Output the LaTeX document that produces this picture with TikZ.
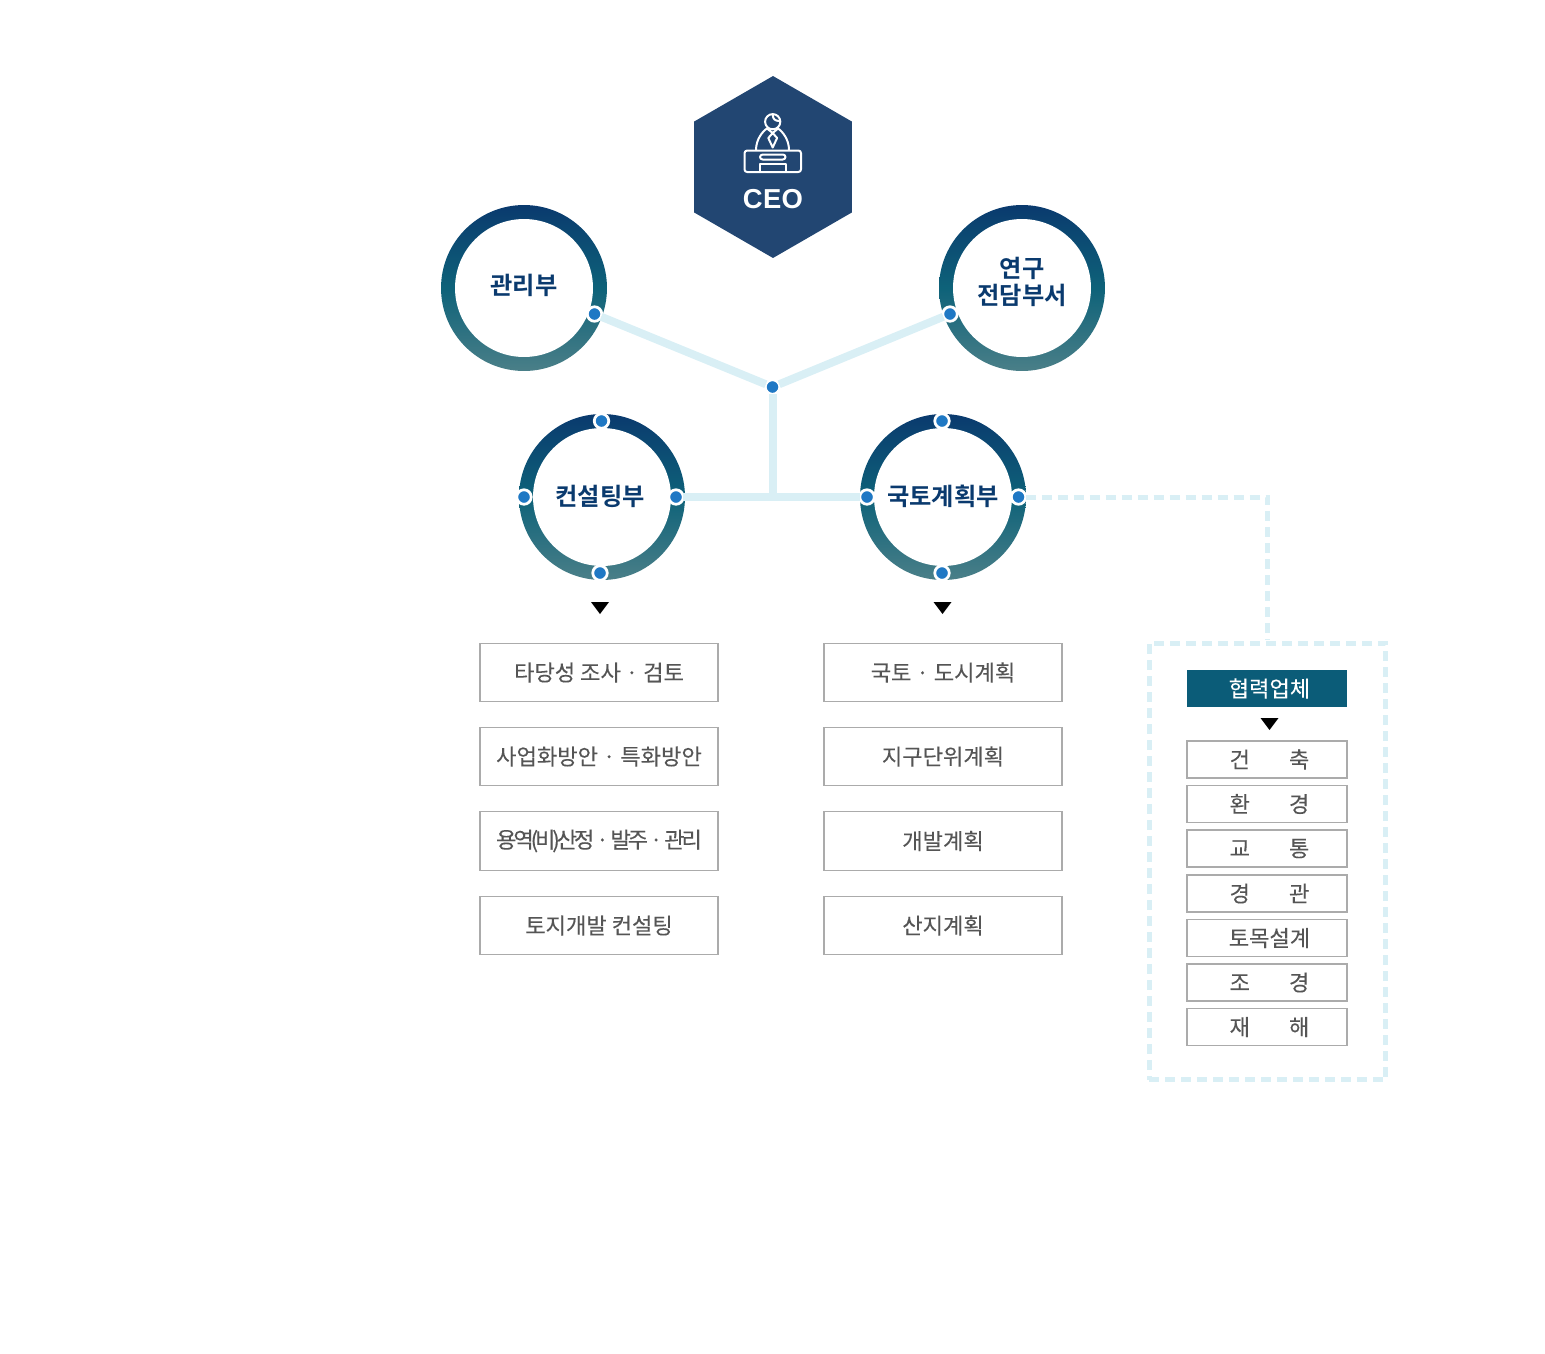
\documentclass[tikz,border=0pt]{standalone}
\usepackage{fontspec}
\setmainfont[FakeBold=0.12]{Noto Sans CJK KR}
\newfontfamily\krtight[LetterSpace=-14,FakeBold=0.12]{Noto Sans CJK KR}
\newfontfamily\krbold{Noto Sans CJK KR Bold}
\newfontfamily\ceofont{Liberation Sans}
\usepackage{tikz}
\usetikzlibrary{shapes.geometric}
\definecolor{ceoblue}{HTML}{224672}
\definecolor{ringtop}{HTML}{0A3A6E}
\definecolor{ringmid}{HTML}{0E6279}
\definecolor{ringbot}{HTML}{4A7F88}
\definecolor{dotblue}{HTML}{1F78C4}
\definecolor{linkblue}{HTML}{D9EFF5}
\definecolor{teamgray}{HTML}{555555}
\definecolor{headteal}{HTML}{0B5C78}
\definecolor{boxgray}{HTML}{ABABAB}
\newcommand{\wgap}{\hspace{22.2pt}}

\begin{document}
\begin{tikzpicture}[x=0.02cm, y=-0.02cm]
        \useasboundingbox (0,0) rectangle (1545,1353);
        \node [regular polygon, regular polygon sides=6, shape border rotate=30, minimum size=3.64cm, inner sep=0pt, outer sep=0pt, fill=ceoblue] (Hx) at (773,167) {};
        \node [text=white, inner sep=0pt] (Ceo) at (773,199) {\ceofont\fontsize{15.6}{18}\selectfont\bfseries C\kern.2pt E\kern.2pt O};
        \begin{scope}[white, line width=0.04cm, line join=round]
                \draw (772.7,121.7) circle [radius=7.6];
                \draw (772.7,115) .. controls (773,119) and (775,121) .. (779.5,121);
                \draw (756,150) .. controls (756,139) and (763,131) .. (767,128.5);
                \draw (789,150) .. controls (789,139) and (782,131) .. (778,128.5);
                \draw (767,128.5) -- (772.7,133) -- (778,128.5);
                \draw (772.7,133) -- (768.3,138) -- (772.7,147.5) -- (777.1,138) -- cycle;
                \draw [rounded corners=1.5] (744.5,150.5) rectangle (801,172);
                \draw [rounded corners=1.5] (760,154.5) rectangle (785.5,159.5);
                \draw (760,172) -- (760,163.5) -- (785.5,163.5) -- (785.5,172);
        \end{scope}
        \begin{scope}[every node/.style={circle, inner sep=0pt, outer sep=0pt, minimum size=3.32cm, top color=ringtop, bottom color=ringbot, middle color=ringmid}]
                \node (GmR) at (524,288) {};
                \node (YgR) at (1022,288) {};
                \node (CsR) at (602,497) {};
                \node (KtR) at (943,497) {};
        \end{scope}
        \begin{scope}[every node/.style={circle, inner sep=0pt, outer sep=0pt, minimum size=2.76cm, fill=white}]
                \node (GmI) at (524,288) {};
                \node (YgI) at (1022,288) {};
                \node (CsI) at (602,497) {};
                \node (KtI) at (943,497) {};
        \end{scope}
        \begin{scope}[every node/.style={inner sep=0pt, text=ringtop, align=center, font=\krbold\fontsize{13.8}{15}\selectfont}]
                \node (Gm) at (524,285.5) {관리부};
                \node (Yg) at (1022,282) {연구\\전담부서};
                \node (Cs) at (600,496) {컨설팅부};
                \node (Kt) at (943,496) {국토계획부};
        \end{scope}
        \begin{scope}[every node/.style={circle, draw=white, line width=0.055cm, fill=dotblue, inner sep=0pt, outer sep=0pt, minimum size=0.29cm}]
                \node (GmD) at (594.5,314) {};
                \node (YgD) at (950,314) {};
                \node (Jn) at (772.5,387) {};
                \node (CsT) at (601.5,421) {};
                \node (CsL) at (524,497) {};
                \node (CsE) at (676,497) {};
                \node (CsB) at (600,573) {};
                \node (KtT) at (942,421) {};
                \node (KtL) at (867,497) {};
                \node (KtE) at (1018.5,497) {};
                \node (KtB) at (942,573) {};
        \end{scope}
        \coordinate (Tj) at (772.5,497);
        \begin{scope}[every path/.style={draw=linkblue, line width=0.16cm}]
                \path (GmD) edge (Jn);
                \path (YgD) edge (Jn);
                \path (Jn) edge (Tj);
                \path (CsE) edge (KtL);
        \end{scope}
        \node [draw=linkblue, line width=0.1cm, dash pattern=on 0.2cm off 0.12cm, minimum width=4.74cm, minimum height=8.74cm, inner sep=0pt, outer sep=0pt] (Cp) at (1267.5,861.5) {};
        \draw [linkblue, line width=0.1cm, dash pattern=on 0.2cm off 0.12cm, shorten >=0.06cm] (KtE) -| (Cp.north);
        \begin{scope}[every node/.style={isosceles triangle, isosceles triangle stretches, shape border rotate=-90, minimum height=0.24cm, minimum width=0.36cm, inner sep=0pt, fill=black}]
                \node (CsA) at (600,606.5) {};
                \node (KtA) at (942.5,606.5) {};
                \node (HpA) at (1269.5,722.5) {};
        \end{scope}
        \begin{scope}[every node/.style={draw=boxgray, line width=0.025cm, minimum width=4.76cm, minimum height=1.17cm, inner sep=0pt, text=teamgray, font=\fontsize{12.6}{14}\selectfont}]
                \node (Cs1) at (599,672.5) {타당성 조사 · 검토};
                \node (Cs2) at (599,756.5) {사업화방안 · 특화방안};
                \node (Cs3) at (599,841) {\krtight 용역(비)산정 · 발주 · 관리};
                \node (Cs4) at (599,925.5) {토지개발 컨설팅};
                \node (Kt1) at (943,672.5) {국토 · 도시계획};
                \node (Kt2) at (943,756.5) {지구단위계획};
                \node (Kt3) at (943,841) {개발계획};
                \node (Kt4) at (943,925.5) {산지계획};
        \end{scope}
        \node [fill=headteal, text=white, minimum width=3.2cm, minimum height=0.74cm, inner sep=0pt, font=\fontsize{12.6}{14}\selectfont, execute at begin node={\hspace{2.8pt}}] (Hp) at (1267,688.5) {협력업체};
        \begin{scope}[every node/.style={draw=boxgray, line width=0.025cm, minimum width=3.2cm, minimum height=0.74cm, inner sep=0pt, text=teamgray, font=\fontsize{12.6}{14}\selectfont, execute at begin node={\hspace{2.8pt}}}]
                \node (Hp1) at (1267,759.5) {건\wgap 축};
                \node (Hp2) at (1267,804) {환\wgap 경};
                \node (Hp3) at (1267,848.5) {교\wgap 통};
                \node (Hp4) at (1267,893.5) {경\wgap 관};
                \node (Hp5) at (1267,938) {토목설계};
                \node (Hp6) at (1267,982.5) {조\wgap 경};
                \node (Hp7) at (1267,1027) {재\wgap 해};
        \end{scope}
\end{tikzpicture}
\end{document}
